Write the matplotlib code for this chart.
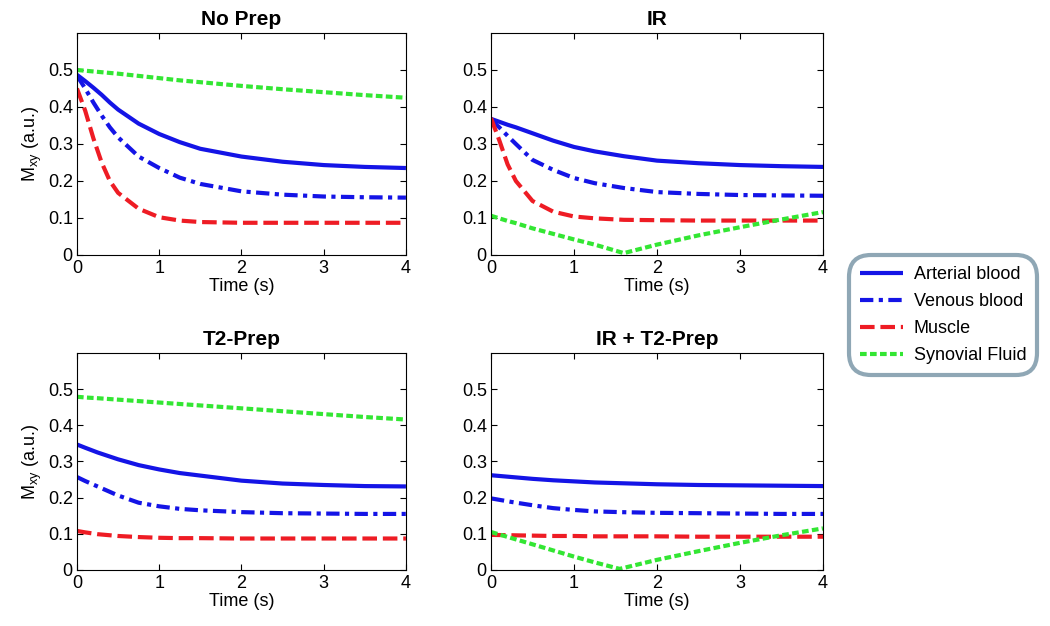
import numpy as np
import matplotlib
matplotlib.use('Agg')
import matplotlib.pyplot as plt

plt.rcParams['font.family'] = ['Liberation Sans', 'DejaVu Sans']
plt.rcParams['mathtext.default'] = 'regular'

# ============================ data ============================
titles = ['No Prep', 'IR', 'T2-Prep', 'IR + T2-Prep']
labels = ['Arterial blood', 'Venous blood', 'Muscle', 'Synovial Fluid']

# No Prep
t_np = [0, 0.1, 0.2, 0.3, 0.4, 0.5, 0.75, 1, 1.25, 1.5, 2, 2.5, 3, 3.5, 4]
art_np = [0.487, 0.470, 0.452, 0.433, 0.412, 0.393, 0.355, 0.327, 0.305, 0.287, 0.266, 0.252, 0.243, 0.238, 0.235]
ven_np = [0.485, 0.450, 0.412, 0.377, 0.345, 0.318, 0.266, 0.235, 0.209, 0.192, 0.172, 0.163, 0.158, 0.156, 0.155]
mus_np = [0.450, 0.390, 0.315, 0.250, 0.200, 0.168, 0.125, 0.102, 0.093, 0.089, 0.087, 0.087, 0.087, 0.087, 0.087]
syn_np = [0.500, 0.498, 0.496, 0.494, 0.492, 0.490, 0.484, 0.478, 0.472, 0.467, 0.457, 0.448, 0.440, 0.432, 0.425]

# IR
t_ir = [0, 0.1, 0.2, 0.3, 0.5, 0.75, 1, 1.25, 1.6, 2, 2.5, 3, 3.5, 4]
art_ir = [0.368, 0.360, 0.352, 0.345, 0.329, 0.309, 0.292, 0.280, 0.267, 0.255, 0.248, 0.243, 0.240, 0.238]
ven_ir = [0.365, 0.345, 0.322, 0.300, 0.257, 0.230, 0.208, 0.194, 0.181, 0.170, 0.165, 0.162, 0.161, 0.160]
mus_ir = [0.370, 0.310, 0.245, 0.200, 0.146, 0.117, 0.104, 0.099, 0.095, 0.094, 0.093, 0.093, 0.093, 0.093]
syn_ir = [0.106, 0.099, 0.092, 0.086, 0.072, 0.057, 0.042, 0.028, 0.005, 0.028, 0.053, 0.075, 0.096, 0.116]

# T2-Prep
t_t2 = [0, 0.1, 0.25, 0.5, 0.75, 1, 1.25, 1.5, 2, 2.5, 3, 3.5, 4]
art_t2 = [0.347, 0.338, 0.325, 0.306, 0.290, 0.278, 0.268, 0.261, 0.247, 0.239, 0.235, 0.232, 0.231]
ven_t2 = [0.257, 0.246, 0.231, 0.206, 0.186, 0.176, 0.169, 0.165, 0.160, 0.157, 0.156, 0.155, 0.155]
mus_t2 = [0.108, 0.104, 0.099, 0.094, 0.091, 0.089, 0.088, 0.088, 0.087, 0.087, 0.087, 0.087, 0.087]
syn_t2 = [0.479, 0.477, 0.475, 0.471, 0.467, 0.463, 0.459, 0.455, 0.447, 0.439, 0.431, 0.423, 0.416]

# IR + T2-Prep
t_irt2 = [0, 0.25, 0.5, 0.75, 1, 1.25, 1.55, 2, 2.5, 3, 3.5, 4]
art_irt2 = [0.262, 0.257, 0.252, 0.248, 0.245, 0.242, 0.240, 0.237, 0.235, 0.234, 0.233, 0.232]
ven_irt2 = [0.198, 0.188, 0.179, 0.171, 0.166, 0.162, 0.160, 0.158, 0.157, 0.156, 0.155, 0.155]
mus_irt2 = [0.097, 0.096, 0.095, 0.094, 0.094, 0.093, 0.093, 0.093, 0.092, 0.092, 0.092, 0.092]
syn_irt2 = [0.105, 0.088, 0.071, 0.054, 0.037, 0.021, 0.003, 0.028, 0.052, 0.075, 0.096, 0.115]

panels = [
    (t_np, [art_np, ven_np, mus_np, syn_np]),
    (t_ir, [art_ir, ven_ir, mus_ir, syn_ir]),
    (t_t2, [art_t2, ven_t2, mus_t2, syn_t2]),
    (t_irt2, [art_irt2, ven_irt2, mus_irt2, syn_irt2]),
]

colors = ['#1414e6', '#1414e6', '#ee1c24', '#33e633']
dash_lst = [None, (3.2, 1.3, 1.0, 1.3), (3.5, 1.4), (1.6, 0.8)]

# axes positions [left, bottom, width, height] in figure fraction
ax_pos = [
    [0.0733, 0.5927, 0.3133, 0.3546],
    [0.4676, 0.5927, 0.3162, 0.3546],
    [0.0733, 0.0895, 0.3133, 0.3466],
    [0.4676, 0.0895, 0.3162, 0.3466],
]

fig = plt.figure(figsize=(10.5, 6.26), dpi=100)
handles = []
for ip, (t, series) in enumerate(panels):
    ax = fig.add_axes(ax_pos[ip])
    for iser, y in enumerate(series):
        ln, = ax.plot(t, y, color=colors[iser], linewidth=3, label=labels[iser],
                      solid_capstyle='butt', dash_capstyle='butt', solid_joinstyle='round')
        if dash_lst[iser] is not None:
            ln.set_dashes(dash_lst[iser])
        if ip == 0:
            handles.append(ln)
    ax.set_xlim(0, 4)
    ax.set_ylim(0, 0.6)
    ax.set_xticks([0, 1, 2, 3, 4])
    ax.set_yticks([0, 0.1, 0.2, 0.3, 0.4, 0.5])
    ax.set_yticklabels(['0', '0.1', '0.2', '0.3', '0.4', '0.5'])
    ax.tick_params(direction='in', top=True, right=True, labelsize=13, length=4)
    ax.tick_params(axis='x', pad=3.5)
    ax.tick_params(axis='y', pad=3)
    ax.set_xlabel('Time (s)', fontsize=13, labelpad=0.5)
    if ip in (0, 2):
        ax.set_ylabel('M$_{xy}$ (a.u.)', fontsize=13, labelpad=3)
    ax.set_title(titles[ip], fontsize=15, fontweight='bold', pad=6)
    for sp in ax.spines.values():
        sp.set_linewidth(0.8)

leg = fig.legend(handles=handles, loc='upper left', bbox_to_anchor=(0.8085, 0.592),
                 borderaxespad=0, fontsize=13, handlelength=2.4, handletextpad=0.6,
                 labelspacing=0.55, borderpad=0.6, fancybox=True, framealpha=1)
frame = leg.get_frame()
frame.set_edgecolor('#8fa7b5')
frame.set_linewidth(3)
frame.set_boxstyle('round', pad=0, rounding_size=1.2)

plt.savefig('out.png', format='png', dpi=100)
